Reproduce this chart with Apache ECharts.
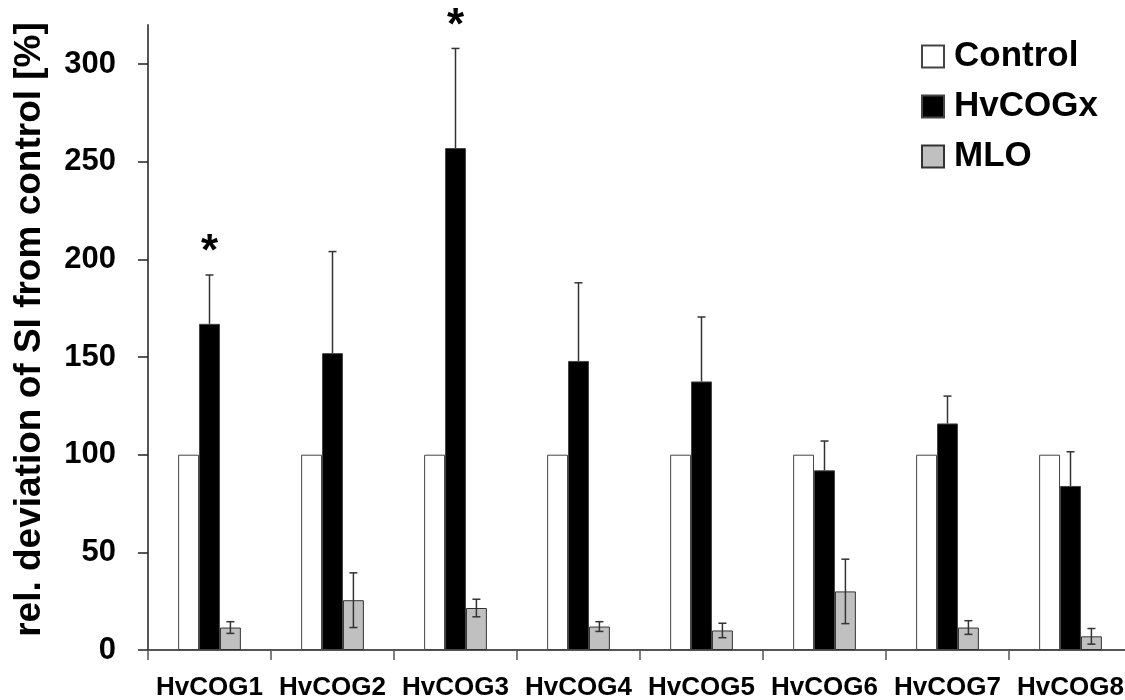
<!DOCTYPE html>
<html>
<head>
<meta charset="utf-8">
<script src="https://cdn.jsdelivr.net/npm/echarts@6/dist/echarts.min.js"></script>
<style>
  html, body { margin: 0; padding: 0; background: #fff; }
  #chart { width: 1125px; height: 700px; }
</style>
</head>
<body>
<div id="chart"></div>
<script>
const categories = ['HvCOG1', 'HvCOG2', 'HvCOG3', 'HvCOG4', 'HvCOG5', 'HvCOG6', 'HvCOG7', 'HvCOG8']
const controlValues = [100, 100, 100, 100, 100, 100, 100, 100]
const hvcogValues = [167, 152, 257, 148, 137.5, 92, 116, 84]
const hvcogErrors = [25, 52, 51, 40, 33, 15, 14, 17.5]
const mloValues = [11.5, 25.5, 21.5, 12, 10, 30, 11.5, 7]
const mloErrors = [3, 14, 4.5, 2.5, 3.7, 16.5, 3.5, 4]
const sigMarks = ['*', '', '*', '', '', '', '', '']
const yTicks = [0, 50, 100, 150, 200, 250, 300]

const FONT = 'Arial, "Liberation Sans", Helvetica, sans-serif'
const BAR_RATIO = 0.17
const AXIS_COLOR = '#555'
const ERR_COLOR = '#333'

const chart = echarts.init(document.getElementById('chart'))

// error bars drawn with a custom series; offset = which bar in the group (0 = middle)
function errorRenderer(offset, twoSided, withMarks) {
  return function (params, api) {
    const i = api.value(0)
    const v = api.value(1)
    const e = api.value(2)
    const band = api.size([1, 0])[0]
    const base = api.coord([i, v])
    const x = base[0] + offset * band * BAR_RATIO
    const top = api.coord([i, v + e])[1]
    const bottom = twoSided ? api.coord([i, v - e])[1] : base[1]
    const style = { stroke: ERR_COLOR, lineWidth: 1.5 }
    const children = [
      { type: 'line', shape: { x1: x, y1: top, x2: x, y2: bottom }, style },
      { type: 'line', shape: { x1: x - 4, y1: top, x2: x + 4, y2: top }, style },
    ]
    if (twoSided) {
      children.push({ type: 'line', shape: { x1: x - 4, y1: bottom, x2: x + 4, y2: bottom }, style })
    }
    if (withMarks && sigMarks[i]) {
      children.push({
        type: 'text',
        style: {
          text: sigMarks[i],
          x: x,
          y: top - 22,
          align: 'center',
          verticalAlign: 'middle',
          fill: '#000',
          font: 'bold 44px ' + FONT,
        },
      })
    }
    return { type: 'group', children }
  }
}

const option = {
  animation: false,
  backgroundColor: '#fff',
  textStyle: { fontFamily: FONT },
  grid: { left: 148, top: 25, width: 984, height: 625, outerBoundsMode: 'none', containLabel: false },
  legend: {
    data: ['Control', 'HvCOGx', 'MLO'],
    orient: 'vertical',
    left: 916,
    top: 34,
    itemWidth: 22,
    itemHeight: 22,
    itemGap: 15,
    icon: 'rect',
    textStyle: { fontSize: 35, fontWeight: 'bold', color: '#000', fontFamily: FONT, padding: [0, 0, 0, 5] },
  },
  xAxis: {
    type: 'category',
    data: categories,
    axisLine: { lineStyle: { color: AXIS_COLOR, width: 2 } },
    axisTick: { show: true, length: 10, lineStyle: { color: AXIS_COLOR, width: 1.5 } },
    axisLabel: { interval: 0, margin: 25, fontSize: 26, fontWeight: 'bold', color: '#000', fontFamily: FONT },
    splitLine: { show: false },
  },
  yAxis: {
    type: 'value',
    min: 0,
    max: 320,
    interval: 50,
    name: 'rel. deviation of SI from control [%]',
    nameLocation: 'middle',
    nameRotate: 90,
    nameGap: 100,
    nameTextStyle: { fontSize: 37, fontWeight: 'bold', color: '#000', fontFamily: FONT, padding: [0, 0, 0, 16] },
    axisLine: { show: true, lineStyle: { color: AXIS_COLOR, width: 2 } },
    axisTick: { show: true, length: 10, customValues: yTicks, lineStyle: { color: '#222', width: 1.5 } },
    axisLabel: { margin: 32, fontSize: 31, fontWeight: 'bold', color: '#000', fontFamily: FONT, customValues: yTicks },
    splitLine: { show: false },
  },
  series: [
    {
      name: 'Control',
      type: 'bar',
      barWidth: BAR_RATIO * 100 + '%',
      barGap: '0%',
      data: controlValues,
      itemStyle: { color: '#fff', borderColor: '#444', borderWidth: 1 },
    },
    {
      name: 'HvCOGx',
      type: 'bar',
      barWidth: BAR_RATIO * 100 + '%',
      barGap: '0%',
      data: hvcogValues,
      itemStyle: { color: '#000', borderColor: '#444', borderWidth: 1 },
    },
    {
      name: 'MLO',
      type: 'bar',
      barWidth: BAR_RATIO * 100 + '%',
      barGap: '0%',
      data: mloValues,
      itemStyle: { color: '#c0c0c0', borderColor: '#333', borderWidth: 1 },
    },
    {
      name: 'hvcogErr',
      type: 'custom',
      renderItem: errorRenderer(0, false, true),
      data: hvcogValues.map((v, i) => [i, v, hvcogErrors[i]]),
      z: 5,
    },
    {
      name: 'mloErr',
      type: 'custom',
      renderItem: errorRenderer(1, true, false),
      data: mloValues.map((v, i) => [i, v, mloErrors[i]]),
      z: 5,
    },
  ],
}

chart.setOption(option)
</script>
</body>
</html>
